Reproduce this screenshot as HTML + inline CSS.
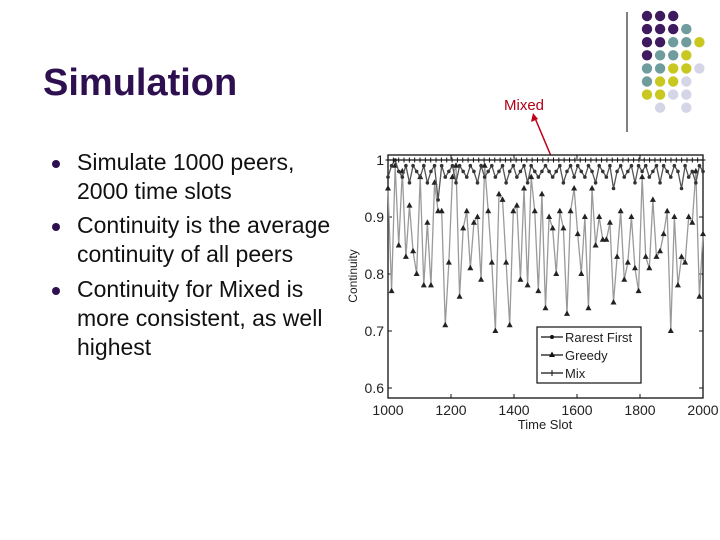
<!DOCTYPE html>
<html><head><meta charset="utf-8"><style>
body{margin:0;width:720px;height:540px;background:#fff;overflow:hidden;position:relative;font-family:"Liberation Sans",sans-serif}
.t{position:absolute;left:43px;top:62px;font-size:38px;font-weight:bold;color:#2e1050}
.b{position:absolute;left:77px;font-size:23px;color:#111;line-height:29px}
.d{position:absolute;left:52px;width:8px;height:8px;border-radius:50%;background:#2e1050}
</style></head><body>
<div class="t">Simulation</div>
<div class="d" style="top:160px"></div>
<div class="b" style="top:148px">Simulate 1000 peers,<br>2000 time slots</div>
<div class="d" style="top:223px"></div>
<div class="b" style="top:211px">Continuity is the average<br>continuity of all peers</div>
<div class="d" style="top:287px"></div>
<div class="b" style="top:275px">Continuity for Mixed is<br>more consistent, as well<br>highest</div>
<svg width="720" height="540" style="position:absolute;left:0;top:0">
<line x1="627" y1="12" x2="627" y2="132" stroke="#000" stroke-width="1"/>
<g id="dots"></g>
<text x="504" y="110" font-size="15" fill="#b00018" font-family="Liberation Sans">Mixed</text>
<line x1="551" y1="156" x2="535" y2="118" stroke="#c00018" stroke-width="1.5"/>
<polygon points="533,113 531,122 538,119" fill="#c00018"/>
<g id="chart"></g>
</svg>
<script>
const ticksX=[1000,1200,1400,1600,1800,2000];
const ticksY=[0.6,0.7,0.8,0.9,1];
const greedy=[0.95,0.77,0.99,0.85,0.98,0.83,0.92,0.84,0.80,0.97,0.78,0.89,0.78,0.96,0.91,0.91,0.71,0.82,0.97,0.99,0.76,0.88,0.91,0.81,0.89,0.90,0.79,0.99,0.91,0.82,0.70,0.94,0.93,0.82,0.71,0.91,0.92,0.79,0.95,0.78,0.97,0.91,0.77,0.94,0.74,0.90,0.88,0.80,0.91,0.88,0.73,0.91,0.95,0.87,0.80,0.90,0.74,0.95,0.85,0.90,0.86,0.86,0.89,0.75,0.83,0.91,0.79,0.82,0.90,0.81,0.77,0.97,0.83,0.81,0.93,0.83,0.84,0.87,0.91,0.70,0.90,0.78,0.83,0.82,0.90,0.89,0.98,0.76,0.87];
const rarest=[0.97,0.99,1.0,0.98,0.97,0.99,0.96,0.99,0.98,0.97,0.99,0.96,0.98,0.99,0.93,0.99,0.97,0.98,0.99,0.96,0.99,0.98,0.97,0.99,0.98,0.96,0.99,0.97,0.98,0.99,0.97,0.98,0.99,0.96,0.98,0.99,0.97,0.98,0.99,0.96,0.99,0.98,0.97,0.98,0.99,0.98,0.97,0.98,0.99,0.96,0.98,0.99,0.97,0.99,0.98,0.97,0.99,0.98,0.96,0.99,0.98,0.97,0.99,0.95,0.98,0.99,0.97,0.98,0.99,0.96,0.99,0.98,0.99,0.97,0.98,0.99,0.96,0.99,0.98,0.97,0.99,0.98,0.95,0.99,0.97,0.98,0.96,0.99,0.98];
const mix=new Array(60).fill(1.0);
const X0=388,X1=703,Y0=398,Y1=155;
const sx=v=>X0+(v-1000)/1000*(X1-X0);
const sy=v=>388+(0.6-v)/0.1*57;
const ns="http://www.w3.org/2000/svg";
const g=document.getElementById('chart');
function mk(t,a,p){const e=document.createElementNS(ns,t);for(const k in a)e.setAttribute(k,a[k]);(p||g).appendChild(e);return e;}
const frame=mk('rect',{x:X0,y:Y1,width:X1-X0,height:Y0-Y1,fill:'#fff',stroke:'#111','stroke-width':1.3});


ticksX.forEach(v=>{const x=sx(v);
mk('line',{x1:x,y1:Y0,x2:x,y2:Y0-4,stroke:'#111'});mk('line',{x1:x,y1:Y1,x2:x,y2:Y1+4,stroke:'#111'});
const t=mk('text',{x:x,y:Y0+17,'font-size':14,'text-anchor':'middle',fill:'#222','font-family':'Liberation Sans'});t.textContent=v;

});
ticksY.forEach(v=>{const y=sy(v);
mk('line',{x1:X0,y1:y,x2:X0+4,y2:y,stroke:'#111'});mk('line',{x1:X1,y1:y,x2:X1-4,y2:y,stroke:'#111'});
const t=mk('text',{x:X0-4,y:y+5,'font-size':14,'text-anchor':'end',fill:'#222','font-family':'Liberation Sans'});t.textContent=v===1?'1':v.toFixed(1);

});
const xt=mk('text',{x:545,y:429,'font-size':13,'text-anchor':'middle',fill:'#222','font-family':'Liberation Sans'});xt.textContent='Time Slot';


const yt=mk('text',{x:0,y:0,'font-size':12,'text-anchor':'middle',fill:'#222','font-family':'Liberation Sans',transform:'translate(357,276) rotate(-90)'});yt.textContent='Continuity';


function series(arr,stroke,marker,name){
const pts=arr.map((v,i)=>[sx(1000+i*1000/(arr.length-1)),sy(v)]);
const pl=mk('polyline',{points:pts.map(p=>p.join(',')).join(' '),fill:'none',stroke:stroke,'stroke-width':1.3});


pts.forEach(p=>{let m;
if(marker==='tri')m=mk('polygon',{points:`${p[0]},${p[1]-3.5} ${p[0]-3},${p[1]+2} ${p[0]+3},${p[1]+2}`,fill:'#222'});
else if(marker==='dot')m=mk('circle',{cx:p[0],cy:p[1],r:1.8,fill:'#333'});
else m=mk('path',{d:`M${p[0]-2.5},${p[1]}h5M${p[0]},${p[1]-2.5}v5`,stroke:'#111','stroke-width':1});

});}
series(greedy,'#9a9a9a','tri','greedy');
series(rarest,'#555','dot','rarest-first');
series(mix,'#111','plus','mix');
const lg=mk('rect',{x:537,y:327,width:104,height:56,fill:'#fff',stroke:'#111','stroke-width':1.2});


[['Rarest First','dot'],['Greedy','tri'],['Mix','plus']].forEach((e,i)=>{const y=337+i*18;
mk('line',{x1:541,y1:y,x2:563,y2:y,stroke:'#111','stroke-width':1.2});
if(e[1]==='tri')mk('polygon',{points:`552,${y-3.5} 549,${y+2} 555,${y+2}`,fill:'#111'});
else if(e[1]==='dot')mk('circle',{cx:552,cy:y,r:2,fill:'#111'});
else mk('path',{d:`M552,${y-3}v6`,stroke:'#111'});
const t=mk('text',{x:565,y:y+5,'font-size':13,fill:'#222','font-family':'Liberation Sans'});t.textContent=e[0];

});
const C={P:'#3f1a5e',T:'#6f9c9c',Y:'#c8c820',L:'#d5d5e8'};
const grid=['PPP--','PPPT-','PPTTY','PTTY-','TTYYL','TYYL-','YYLL-','-L-L-'];
const dg=document.getElementById('dots');
grid.forEach((r,j)=>[...r].forEach((c,i)=>{if(c==='-')return;
const el=mk('circle',{cx:647+i*13.1,cy:16+j*13.1,r:5.2,fill:C[c]},dg);

}));
</script>
</body></html>
